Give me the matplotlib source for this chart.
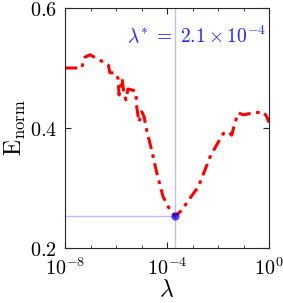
import numpy as np
import matplotlib
matplotlib.use("Agg")
import matplotlib.pyplot as plt

plt.rcParams['mathtext.fontset'] = 'cm'
plt.rcParams['font.family'] = ['DejaVu Serif']

log_lambda = [-8.00, -7.35, -7.22, -7.02, -6.76, -6.50, -6.30, -6.24, -6.04, -5.92,
              -5.88, -5.76, -5.69, -5.61, -5.53, -5.33, -5.22, -5.18, -5.10, -4.99,
              -4.90, -4.80, -4.60, -4.40, -4.15, -3.88, -3.68, -3.42, -3.10, -2.77,
              -2.51, -2.31, -2.05, -1.79, -1.60, -1.46, -1.33, -1.20, -1.01, -0.62,
              -0.22, -0.09, 0.00]
e_norm = [0.500, 0.500, 0.518, 0.522, 0.516, 0.510, 0.505, 0.492, 0.492, 0.483,
          0.455, 0.482, 0.458, 0.447, 0.465, 0.463, 0.460, 0.433, 0.410, 0.427,
          0.419, 0.397, 0.363, 0.325, 0.285, 0.263, 0.253, 0.263, 0.283, 0.302,
          0.330, 0.352, 0.372, 0.391, 0.394, 0.388, 0.410, 0.425, 0.422, 0.425,
          0.427, 0.419, 0.409]
lambdas = [10.0 ** v for v in log_lambda]
lam_star = 2.1e-4
e_star = 0.253

fig = plt.figure(figsize=(2.83, 3.03), dpi=100)
ax = fig.add_axes([65/283, 55/303, 204/283, 240/303])

ax.axvline(lam_star, color=(0.75, 0.75, 1.0), lw=1.0, zorder=1)
ax.plot([1e-8, lam_star], [e_star, e_star], color=(0.75, 0.75, 1.0), lw=1.0, zorder=1)
ax.plot(lambdas, e_norm, color='red', lw=2.2, linestyle=(0, (4, 1.8, 1.2, 1.8)), zorder=2)
ax.plot([lam_star], [e_star], 'o', color='blue', alpha=0.7, ms=6, mec='none', zorder=3)

ax.set_xscale('log')
ax.set_xlim(1e-8, 1)
ax.set_ylim(0.2, 0.6)
ax.set_xticks([1e-8, 1e-4, 1])
ax.set_xticklabels([r'$10^{-8}$', r'$10^{-4}$', r'$10^{0}$'], fontsize=14.5)
ax.set_xticks([10.0 ** k for k in range(-7, 0) if k != -4], minor=True)
ax.set_xticklabels([], minor=True)
ax.set_yticks([0.2, 0.4, 0.6])
ax.set_yticklabels([r'$0.2$', r'$0.4$', r'$0.6$'], fontsize=14.5)
ax.tick_params(which='both', direction='in', top=True, right=True, color='#262626')
ax.tick_params(which='major', length=4)
ax.tick_params(axis='y', which='major', pad=6)
ax.tick_params(axis='x', which='major', pad=6.5)
ax.tick_params(which='minor', length=2.5)
for s in ax.spines.values():
    s.set_color('#262626')
    s.set_linewidth(0.8)

ax.set_xlabel(r'$\lambda$', fontsize=17, labelpad=0)
ax.set_ylabel(r'$\mathrm{E}_{\mathrm{norm}}$', fontsize=17, labelpad=1)

ax.text(0.985, 0.885, r'$\lambda^{*}\;=\;2.1 \times 10^{-4}$', transform=ax.transAxes,
        ha='right', va='center', color=(0.12, 0.12, 1.0), fontsize=14)

fig.savefig('out.png', dpi=100)
